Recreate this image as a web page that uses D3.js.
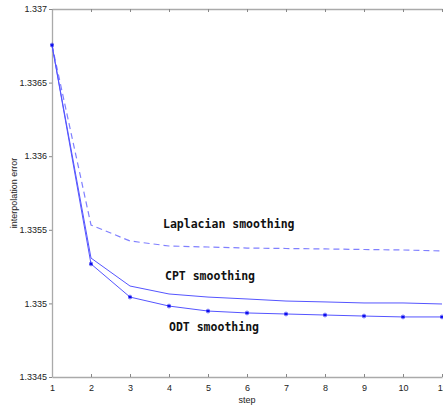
<!DOCTYPE html>
<html>
<head>
<meta charset="utf-8">
<script src="https://cdn.jsdelivr.net/npm/d3@7"></script>
<style>
body { margin: 0; background: #fff; }
</style>
</head>
<body>
<div id="chart"></div>
<script>
var steps = [1, 2, 3, 4, 5, 6, 7, 8, 9, 10, 11];
var laplacian = [1.336755, 1.335533, 1.335424, 1.33539, 1.335383, 1.335376, 1.335373, 1.33537, 1.335366, 1.335363, 1.335356];
var cpt = [1.336755, 1.335308, 1.335118, 1.335064, 1.335043, 1.33503, 1.335016, 1.33501, 1.335003, 1.335003, 1.334996];
var odt = [1.336755, 1.335268, 1.335043, 1.334982, 1.334948, 1.334935, 1.334928, 1.334921, 1.334914, 1.334908, 1.334908];
var yTicks = [1.3345, 1.335, 1.3355, 1.336, 1.3365, 1.337];
var yTickLabels = ["1.3345", "1.335", "1.3355", "1.336", "1.3365", "1.337"];

var W = 443, H = 409;
var margin = {top: 9, right: 1, bottom: 32, left: 52};

var svg = d3.select("#chart").append("svg")
	.attr("width", W)
	.attr("height", H);

var x = d3.scaleLinear().domain([1, 11]).range([margin.left, margin.left + 390]);
var y = d3.scaleLinear().domain([1.3345, 1.337]).range([H - margin.bottom, margin.top]);

var axisColor = "#aaaaaa";

// bottom axis, ticks inside
var xAxis = svg.append("g")
	.attr("transform", "translate(0," + (H - margin.bottom) + ")")
	.call(d3.axisBottom(x).tickValues(steps).tickFormat(d3.format("d")).tickSizeInner(-3).tickSizeOuter(0).tickPadding(8));
// top axis, ticks inside, no labels
var xTop = svg.append("g")
	.attr("transform", "translate(0," + margin.top + ")")
	.call(d3.axisTop(x).tickValues(steps).tickFormat("").tickSizeInner(-3).tickSizeOuter(0));
// left axis
var yAxis = svg.append("g")
	.attr("transform", "translate(" + margin.left + ",0)")
	.call(d3.axisLeft(y).tickValues(yTicks).tickFormat(function (d, i) { return yTickLabels[i]; }).tickSizeInner(3).tickSizeOuter(0).tickPadding(2));

[xAxis, xTop, yAxis].forEach(function (g) {
	g.select(".domain").attr("stroke", axisColor).attr("stroke-width", 1.3);
	g.selectAll(".tick line").attr("stroke", "#888");
	g.selectAll(".tick text")
		.attr("fill", "#222")
		.attr("font-family", "Liberation Sans, Arial, sans-serif")
		.attr("font-size", "9px");
});
yAxis.selectAll(".tick text").attr("dy", "0.3em");

svg.append("text")
	.attr("x", 247)
	.attr("y", 403)
	.attr("text-anchor", "middle")
	.attr("font-family", "Liberation Sans, Arial, sans-serif")
	.attr("font-size", "9px")
	.attr("fill", "#222")
	.text("step");

svg.append("text")
	.attr("transform", "translate(17,193) rotate(-90)")
	.attr("text-anchor", "middle")
	.attr("font-family", "Liberation Sans, Arial, sans-serif")
	.attr("font-size", "9px")
	.attr("fill", "#222")
	.text("interpolation error");

var line = d3.line()
	.x(function (d, i) { return x(steps[i]); })
	.y(function (d) { return y(d); });

svg.append("path")
	.datum(laplacian)
	.attr("d", line)
	.attr("fill", "none")
	.attr("stroke", "#8080ff")
	.attr("stroke-width", 1.2)
	.attr("stroke-dasharray", "6,4");

svg.append("path")
	.datum(cpt)
	.attr("d", line)
	.attr("fill", "none")
	.attr("stroke", "#5555ff")
	.attr("stroke-width", 1);

svg.append("path")
	.datum(odt)
	.attr("d", line)
	.attr("fill", "none")
	.attr("stroke", "#5555ff")
	.attr("stroke-width", 1);

// star markers on ODT
var star = d3.symbol().type(d3.symbolAsterisk).size(14);
svg.selectAll(".odtMark")
	.data(odt)
	.enter()
	.append("path")
		.attr("class", "odtMark")
		.attr("transform", function (d, i) { return "translate(" + x(steps[i]) + "," + y(d) + ")"; })
		.attr("d", star)
		.attr("fill", "none")
		.attr("stroke", "#0000ee")
		.attr("stroke-width", 1);

var labels = [
	{t: "Laplacian smoothing", x: 163, y: 228},
	{t: "CPT smoothing", x: 165, y: 280},
	{t: "ODT smoothing", x: 169, y: 331}
];
svg.selectAll(".lbl")
	.data(labels)
	.enter()
	.append("text")
		.attr("class", "lbl")
		.attr("x", d => d.x)
		.attr("y", d => d.y)
		.attr("font-family", "DejaVu Sans Mono, monospace")
		.attr("font-weight", "bold")
		.attr("font-size", "11.5px")
		.attr("fill", "#111")
		.text(d => d.t);
</script>
</body>
</html>
